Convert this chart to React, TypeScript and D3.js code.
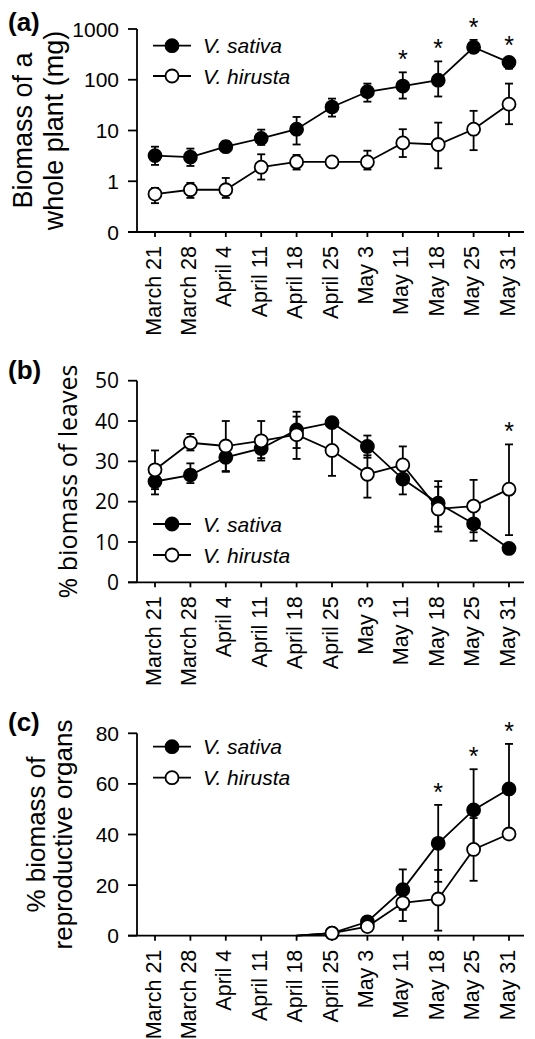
import React from 'react';
import * as d3 from 'd3';

// ---------- DATA ----------
const dates = ['March 21', 'March 28', 'April 4', 'April 11', 'April 18', 'April 25', 'May 3', 'May 11', 'May 18', 'May 25', 'May 31'];
const seriesNames = ['V. sativa', 'V. hirusta'];

// (a) Biomass of a whole plant (mg), log scale
const aSativa = [3.2, 3.0, 4.8, 7.0, 10.6, 29, 58, 75, 98, 436, 220];
const aSativaHi = [4.8, 4.4, 6.2, 10.4, 18.5, 42.5, 84, 140, 230, 610, 270];
const aSativaLo = [2.1, 2.0, 3.8, 5.2, 5.3, 18.8, 37, 42.6, 46.8, 350, 165];
const aHirusta = [0.56, 0.68, 0.68, 1.89, 2.4, 2.4, 2.4, 5.7, 5.3, 10.6, 33];
const aHirustaHi = [0.74, 0.93, 1.16, 3.4, 3.3, 2.6, 4.0, 10.6, 14.3, 24.4, 84];
const aHirustaLo = [0.37, 0.47, 0.47, 1.08, 1.7, 2.2, 1.7, 3.0, 1.8, 4.1, 13.3];
const aSig = [false, false, false, false, false, false, false, true, true, true, true];
const aTicks = [0.1, 1, 10, 100, 1000];
const aTickLabels = ['0', '1', '10', '100', '1000'];

// (b) % biomass of leaves
const bSativa = [25.0, 26.6, 31.0, 33.2, 37.8, 39.6, 33.7, 25.6, 19.6, 14.5, 8.4];
const bSativaHi = [28.2, 29.5, 34.6, 35.6, 42.3, 40.6, 36.4, 29.4, 25.1, 18.7, 9.4];
const bSativaLo = [21.8, 24.6, 27.4, 30.8, 33.3, 38.6, 30.9, 21.8, 13.8, 10.3, 7.4];
const bHirusta = [27.9, 34.6, 33.8, 35.1, 36.6, 32.7, 26.8, 29.1, 18.2, 18.9, 23.1];
const bHirustaHi = [32.7, 36.8, 40.0, 40.0, 41.1, 39.0, 31.5, 33.7, 23.7, 25.4, 34.2];
const bHirustaLo = [23.1, 32.7, 27.6, 30.2, 30.6, 26.4, 21.0, 24.5, 12.6, 12.4, 11.7];
const bSig = [false, false, false, false, false, false, false, false, false, false, true];
const bTicks = [0, 10, 20, 30, 40, 50];

// (c) % biomass of reproductive organs
const cSativa = [null, null, null, null, 0, 1.0, 5.5, 18.2, 36.5, 49.7, 58.0];
const cSativaHi = [null, null, null, null, 0, 1.5, 7.0, 26.2, 51.7, 65.8, 75.8];
const cSativaLo = [null, null, null, null, 0, 0.5, 4.0, 10.2, 21.3, 33.6, 40.2];
const cHirusta = [null, null, null, null, 0, 1.0, 3.6, 13.0, 14.5, 34.1, 40.2];
const cHirustaHi = [null, null, null, null, 0, 1.5, 4.5, 20.2, 26.0, 46.5, 42.0];
const cHirustaLo = [null, null, null, null, 0, 0.5, 2.7, 5.8, 2.0, 21.7, 38.4];
const cSig = [false, false, false, false, false, false, false, false, true, true, true];
const cTicks = [0, 20, 40, 60, 80];

// ---------- RENDERING ----------
const HELV = 'Liberation Sans, Arial, Helvetica, sans-serif';
const HUMAN = 'Open Sans, DejaVu Sans, sans-serif';
const AXIS_X = 137;
const X_END = 524;
const SW = 1.8;

const x = d3.scalePoint<string>().domain(dates).range([155, 509]);

type Series = { mean: (number | null)[]; hi: (number | null)[]; lo: (number | null)[]; filled: boolean };

function Panel(props: {
  label: string; labelY: number;
  y: any; ticks: number[]; tickLabels: string[]; tickFont: string;
  titleLines: { text: string; x: number }[]; titleFont: string; titleSize: number;
  series: Series[]; sig: boolean[]; legendY: number[];
}) {
  const { y, ticks, tickLabels, series, sig } = props;
  const y0 = y.range()[0];
  const yTop = y.range()[1];
  const line = d3.line<any>()
    .defined((d: any) => d.v != null)
    .x((d: any) => x(d.date) as number)
    .y((d: any) => y(d.v));
  const titleCenter = (y0 + yTop) / 2;
  return (
    <g>
      <text x={8} y={props.labelY} fontFamily={HELV} fontWeight="bold" fontSize={26}>{props.label}</text>
      {props.titleLines.map((t, i) => (
        <text key={i} transform={`translate(${t.x},${titleCenter}) rotate(-90)`} textAnchor="middle"
          fontFamily={props.titleFont} fontSize={props.titleSize}>{t.text}</text>
      ))}
      {/* y axis */}
      <line x1={AXIS_X} x2={AXIS_X} y1={yTop} y2={y0} stroke="#000" strokeWidth={SW} />
      {ticks.map((t, i) => (
        <g key={i}>
          <line x1={AXIS_X - 9} x2={AXIS_X} y1={y(t)} y2={y(t)} stroke="#000" strokeWidth={SW} />
          <text x={119} y={y(t)} dy="0.36em" textAnchor="end" fontFamily={props.tickFont} fontSize={21}>{tickLabels[i]}</text>
        </g>
      ))}
      {/* x axis */}
      <line x1={AXIS_X - 9} x2={X_END} y1={y0} y2={y0} stroke="#000" strokeWidth={SW} />
      {dates.map((d) => (
        <g key={d}>
          <line x1={x(d)} x2={x(d)} y1={y0} y2={y0 + 5} stroke="#000" strokeWidth={SW} />
          <text transform={`translate(${(x(d) as number) + 5.5},${y0 + 14}) rotate(-90)`} textAnchor="end"
            fontFamily={HELV} fontSize={21.5}>{d}</text>
        </g>
      ))}
      {/* series */}
      {series.map((s, si) => {
        const pts = dates.map((d, i) => ({ date: d, v: s.mean[i], hi: s.hi[i], lo: s.lo[i] }));
        return (
          <g key={si}>
            <path d={line(pts) || ''} fill="none" stroke="#000" strokeWidth={SW} />
            {pts.filter(p => p.v != null && p.v > 0).map((p, i) => {
              const cx = x(p.date) as number;
              return (
                <g key={i}>
                  <line x1={cx} x2={cx} y1={y(p.hi)} y2={y(p.lo)} stroke="#000" strokeWidth={SW} />
                  <line x1={cx - 4} x2={cx + 4} y1={y(p.hi)} y2={y(p.hi)} stroke="#000" strokeWidth={SW} />
                  <line x1={cx - 4} x2={cx + 4} y1={y(p.lo)} y2={y(p.lo)} stroke="#000" strokeWidth={SW} />
                  <circle cx={cx} cy={y(p.v)} r={6.5} fill={s.filled ? '#000' : '#fff'} stroke="#000" strokeWidth={SW} />
                </g>
              );
            })}
          </g>
        );
      })}
      {/* significance */}
      {dates.map((d, i) => {
        if (!sig[i]) return null;
        const top = Math.min(...series.map(s => y(s.hi[i] as number)));
        const c = top - 18;
        return <text key={d} x={x(d)} y={c + 14} textAnchor="middle" fontFamily={HELV} fontSize={25}>*</text>;
      })}
      {/* legend */}
      {series.map((s, si) => (
        <g key={si}>
          <line x1={153} x2={191} y1={props.legendY[si]} y2={props.legendY[si]} stroke="#000" strokeWidth={SW} />
          <circle cx={172} cy={props.legendY[si]} r={6.5} fill={s.filled ? '#000' : '#fff'} stroke="#000" strokeWidth={SW} />
          <text x={203} y={props.legendY[si]} dy="0.36em" fontFamily={HELV} fontStyle="italic" fontSize={21}>{seriesNames[si]}</text>
        </g>
      ))}
    </g>
  );
}

export default function App() {
  const yA = d3.scaleLog().domain([0.1, 1000]).range([232, 29]);
  const yB = d3.scaleLinear().domain([0, 50]).range([582.3, 380.7]);
  const yC = d3.scaleLinear().domain([0, 80]).range([935.7, 733.3]);
  return (
    <svg width={535} height={1039} style={{ position: 'absolute', left: 0, top: 0, background: '#fff' }}>
      <rect width={535} height={1039} fill="#fff" />
      <Panel label="(a)" labelY={31} y={yA} ticks={aTicks} tickLabels={aTickLabels} tickFont={HELV}
        titleLines={[{ text: 'Biomass of a', x: 32 }, { text: 'whole plant (mg)', x: 63 }]} titleFont={HELV} titleSize={27}
        series={[{ mean: aSativa, hi: aSativaHi, lo: aSativaLo, filled: true }, { mean: aHirusta, hi: aHirustaHi, lo: aHirustaLo, filled: false }]}
        sig={aSig} legendY={[45.7, 76]} />
      <Panel label="(b)" labelY={379} y={yB} ticks={bTicks} tickLabels={bTicks.map(String)} tickFont={HUMAN}
        titleLines={[{ text: '% biomass of leaves', x: 77 }]} titleFont={HUMAN} titleSize={25}
        series={[{ mean: bSativa, hi: bSativaHi, lo: bSativaLo, filled: true }, { mean: bHirusta, hi: bHirustaHi, lo: bHirustaLo, filled: false }]}
        sig={bSig} legendY={[524, 555]} />
      <Panel label="(c)" labelY={731} y={yC} ticks={cTicks} tickLabels={cTicks.map(String)} tickFont={HELV}
        titleLines={[{ text: '% biomass of', x: 45 }, { text: 'reproductive organs', x: 72 }]} titleFont={HELV} titleSize={26}
        series={[{ mean: cSativa, hi: cSativaHi, lo: cSativaLo, filled: true }, { mean: cHirusta, hi: cHirustaHi, lo: cHirustaLo, filled: false }]}
        sig={cSig} legendY={[746.7, 777.7]} />
    </svg>
  );
}
